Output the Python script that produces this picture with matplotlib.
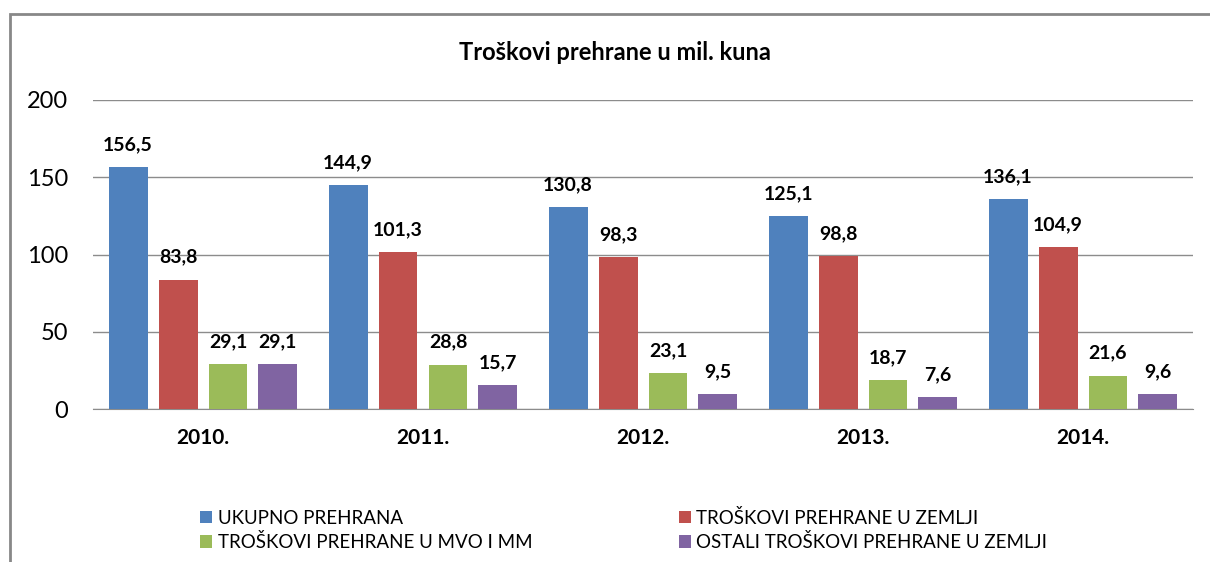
import matplotlib.pyplot as plt
import matplotlib.patches as patches
import numpy as np

plt.rcParams['font.family'] = ['Lato', 'DejaVu Sans']

# podaci
godine = ["2010.", "2011.", "2012.", "2013.", "2014."]
ukupno = [156.5, 144.9, 130.8, 125.1, 136.1]
u_zemlji = [83.8, 101.3, 98.3, 98.8, 104.9]
mvo_mm = [29.1, 28.8, 23.1, 18.7, 21.6]
ostali = [29.1, 15.7, 9.5, 7.6, 9.6]

serije = [ukupno, u_zemlji, mvo_mm, ostali]
nazivi = ["UKUPNO PREHRANA", "TROŠKOVI PREHRANE U ZEMLJI",
          "TROŠKOVI PREHRANE U MVO I MM", "OSTALI TROŠKOVI PREHRANE U ZEMLJI"]
boje = ["#4F81BD", "#C0504D", "#9BBB59", "#8064A2"]

fig = plt.figure(figsize=(12.1, 5.62), dpi=100)
W, H = 1210, 562
ax = fig.add_axes([93 / W, 1 - 409 / H, 1100 / W, 309 / H])

x = np.arange(len(godine))
sirina = 0.177
korak = 0.227

rucke = []
for i in range(4):
    pomak = (i - 1.5) * korak
    stupci = ax.bar(x + pomak, serije[i], width=sirina, color=boje[i], label=nazivi[i], zorder=3)
    rucke.append(stupci)
    for s, v in zip(stupci, serije[i]):
        ax.annotate(f"{v:.1f}".replace(".", ","), (s.get_x() + s.get_width() / 2, v),
                    xytext=(0, 10), textcoords="offset points", ha="center", va="bottom",
                    fontsize=14, fontweight="bold")

ax.set_xlim(-0.5, 4.5)
ax.set_ylim(0, 200)
ax.set_yticks([0, 50, 100, 150, 200])
ax.set_xticks(x)
ax.set_xticklabels(godine, fontsize=15, fontweight="bold")
ax.tick_params(axis="y", labelsize=17, length=0, pad=18)
ax.tick_params(axis="x", length=0, pad=14)
ax.grid(axis="y", color="#8c8c8c", linewidth=1, zorder=0)
for sp in ["top", "right", "left"]:
    ax.spines[sp].set_visible(False)
ax.spines["bottom"].set_color("#8c8c8c")

fig.text(615 / W, 1 - 52 / H, "Troškovi prehrane u mil. kuna", ha="center", va="center",
         fontsize=17, fontweight="bold")

# okvir grafikona
okvir = patches.Rectangle((10 / W, -0.1), 1.2, 1 - 14 / H + 0.1, transform=fig.transFigure,
                          fill=False, edgecolor="#888888", linewidth=2)
fig.patches.append(okvir)

# legenda ide po redovima: redoslijed 0, 2, 1, 3
red = [0, 2, 1, 3]
fig.legend([rucke[k] for k in red], [nazivi[k] for k in red],
           loc="center left", bbox_to_anchor=(183 / W, 1 - 530 / H), ncol=2, frameon=False,
           fontsize=13.5, handlelength=0.65, handleheight=0.65, handletextpad=0.3,
           columnspacing=7.8, labelspacing=0.35)

fig.savefig("out.png", dpi=100)
